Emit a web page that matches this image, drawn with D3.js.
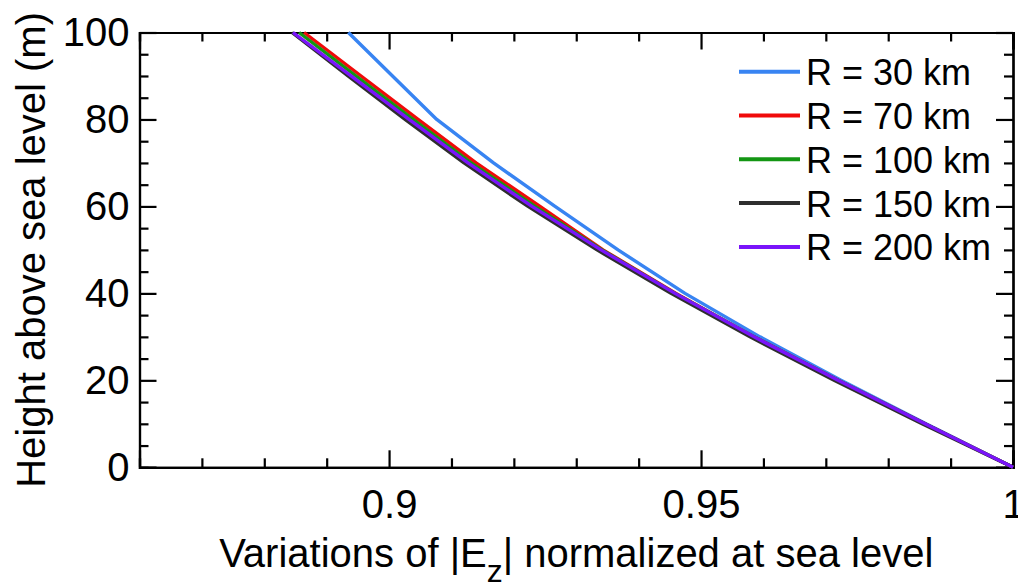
<!DOCTYPE html>
<html>
<head>
<meta charset="utf-8">
<script src="https://cdn.jsdelivr.net/npm/d3@7"></script>
<style>
  html, body { margin: 0; padding: 0; background: #fff; }
  svg { display: block; }
  text { font-family: "Liberation Sans", Arial, Helvetica, sans-serif; fill: #000; }
</style>
</head>
<body>
<svg id="chart" width="1018" height="588"></svg>
<script>
// ---- data ----
const heights = [0, 10, 20, 30, 40, 50, 60, 70, 80, 90, 100];
const seriesNames = ["R = 30 km", "R = 70 km", "R = 100 km", "R = 150 km", "R = 200 km"];
const seriesColors = ["#3884f2", "#f00a0a", "#139613", "#2e2e2e", "#7a14fa"];
const r30  = [1.0, 0.98606, 0.97243, 0.95945, 0.94743, 0.93670, 0.92660, 0.91674, 0.90764, 0.90055, 0.89347];
const r70  = [1.0, 0.98590, 0.97196, 0.95849, 0.94599, 0.93429, 0.92419, 0.91394, 0.90464, 0.89551, 0.88637];
const r100 = [1.0, 0.98590, 0.97196, 0.95849, 0.94583, 0.93413, 0.92339, 0.91314, 0.90384, 0.89471, 0.88557];
const r150 = [1.0, 0.98542, 0.97132, 0.95785, 0.94519, 0.93333, 0.92227, 0.91201, 0.90256, 0.89342, 0.88444];
const r200 = [1.0, 0.98590, 0.97196, 0.95849, 0.94583, 0.93397, 0.92291, 0.91265, 0.90320, 0.89390, 0.88460];
const xMajorTicks = [0.9, 0.95, 1];
const xTickLabels = ["0.9", "0.95", "1"];
const yMajorTicks = [0, 20, 40, 60, 80, 100];
const xDomain = [0.86, 1.0];
const yDomain = [0, 100];
const xLabelMain = "Variations of |E";
const xLabelSub = "z";
const xLabelRest = "| normalized at sea level";
const yLabel = "Height above sea level (m)";

const allSeries = [r30, r70, r100, r150, r200];

// ---- layout ----
const svg = d3.select("#chart");
const pL = 139.5, pR = 1013, pT = 32.5, pB = 467.3;
const x = d3.scaleLinear().domain(xDomain).range([pL, pR]);
const y = d3.scaleLinear().domain(yDomain).range([pB, pT]);

const xMinor = d3.range(0.86, 1.0001, 0.01).map(v => +v.toFixed(2)).filter(v => !xMajorTicks.some(m => Math.abs(m - v) < 1e-9));
const yMinor = d3.range(0, 100.001, 5).filter(v => v % 20 !== 0);

const majorLen = 17, minorLen = 9;
const tickFont = 40;

// bottom axis
const gB = svg.append("g").attr("transform", `translate(0,${pB})`)
  .call(d3.axisBottom(x).tickValues(xMajorTicks).tickSize(-majorLen).tickPadding(22)
    .tickFormat((d, i) => xTickLabels[i]));
gB.append("g").call(d3.axisBottom(x).tickValues(xMinor).tickSize(-minorLen).tickFormat(""));
// top axis
const gT = svg.append("g").attr("transform", `translate(0,${pT})`)
  .call(d3.axisTop(x).tickValues(xMajorTicks).tickSize(-majorLen).tickFormat(""));
gT.append("g").call(d3.axisTop(x).tickValues(xMinor).tickSize(-minorLen).tickFormat(""));
// left axis
const gL = svg.append("g").attr("transform", `translate(${pL},0)`)
  .call(d3.axisLeft(y).tickValues(yMajorTicks).tickSize(-majorLen).tickPadding(10).tickFormat(d3.format("d")));
gL.append("g").call(d3.axisLeft(y).tickValues(yMinor).tickSize(-minorLen).tickFormat(""));
// right axis
const gR = svg.append("g").attr("transform", `translate(${pR},0)`)
  .call(d3.axisRight(y).tickValues(yMajorTicks).tickSize(-majorLen).tickFormat(""));
gR.append("g").call(d3.axisRight(y).tickValues(yMinor).tickSize(-minorLen).tickFormat(""));

svg.selectAll(".domain").attr("stroke", "#000").attr("stroke-width", 2.2);
svg.selectAll(".tick line").attr("stroke", "#000").attr("stroke-width", 2.2);
svg.selectAll(".tick text").attr("font-size", tickFont)
  .attr("font-family", "'Liberation Sans', Arial, sans-serif").attr("fill", "#000");

// lines
const line = d3.line().x(d => x(d[0])).y(d => y(d[1]));
allSeries.forEach((vals, i) => {
  svg.append("path")
    .datum(vals.map((v, j) => [v, heights[j]]))
    .attr("fill", "none")
    .attr("stroke", seriesColors[i])
    .attr("stroke-width", 3.4)
    .attr("stroke-linejoin", "round")
    .attr("d", line);
});

// legend
const legX1 = 739, legX2 = 800, legText = 806, legY0 = 71.7, legDy = 43.8;
const leg = svg.append("g");
seriesNames.forEach((name, i) => {
  const yy = legY0 + i * legDy;
  leg.append("line").attr("x1", legX1).attr("x2", legX2).attr("y1", yy).attr("y2", yy)
    .attr("stroke", seriesColors[i]).attr("stroke-width", 4);
  leg.append("text").attr("x", legText).attr("y", yy + 13.5).attr("font-size", 36).text(name);
});

// x label
const xl = svg.append("text").attr("x", (pL + pR) / 2).attr("y", 567)
  .attr("text-anchor", "middle").attr("font-size", 40);
xl.append("tspan").text(xLabelMain);
xl.append("tspan").attr("font-size", 32).attr("dy", 15).text(xLabelSub);
xl.append("tspan").attr("dy", -15).text(xLabelRest);

// y label
svg.append("text").attr("transform", `translate(45,${(pT + pB) / 2}) rotate(-90)`)
  .attr("text-anchor", "middle").attr("font-size", 40).text(yLabel);
</script>
</body>
</html>
